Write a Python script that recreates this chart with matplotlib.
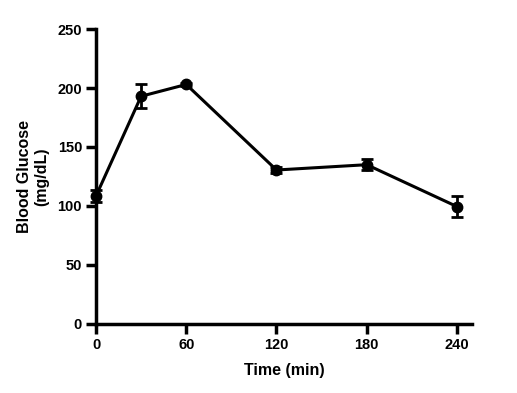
import matplotlib
matplotlib.use('Agg')
import matplotlib.pyplot as plt

time_min = [0, 30, 60, 120, 180, 240]
glucose = [108.5, 193, 203, 130.5, 135, 99.5]
sem = [5, 10, 1.5, 2.5, 4.5, 9]
x_ticks = [0, 60, 120, 180, 240]
y_ticks = [0, 50, 100, 150, 200, 250]

plt.rcParams['font.family'] = ['Liberation Sans', 'DejaVu Sans']
plt.rcParams['font.weight'] = 'bold'

fig = plt.figure(figsize=(5.17, 3.93), dpi=100)
ax = fig.add_axes([0.1857, 0.1756, 0.7273, 0.7506])

ax.errorbar(time_min, glucose, yerr=sem, color='black', linewidth=2.2,
            marker='o', markersize=7.5, capsize=4, capthick=2, elinewidth=2,
            clip_on=False, zorder=3)

ax.set_xlim(0, 250)
ax.set_ylim(0, 250)
ax.set_xticks(x_ticks)
ax.set_yticks(y_ticks)
ax.spines['top'].set_visible(False)
ax.spines['right'].set_visible(False)
for s in ['left', 'bottom']:
    ax.spines[s].set_linewidth(2.5)
ax.tick_params(width=2.5, length=7, labelsize=10.5, pad=3)
for lab in ax.get_xticklabels() + ax.get_yticklabels():
    lab.set_fontweight('bold')

ax.set_xlabel('Time (min)', fontsize=11.5, fontweight='bold', labelpad=8)
ax.set_ylabel('Blood Glucose\n(mg/dL)', fontsize=11.5, fontweight='bold', labelpad=6)

fig.savefig('out.png', dpi=100)
